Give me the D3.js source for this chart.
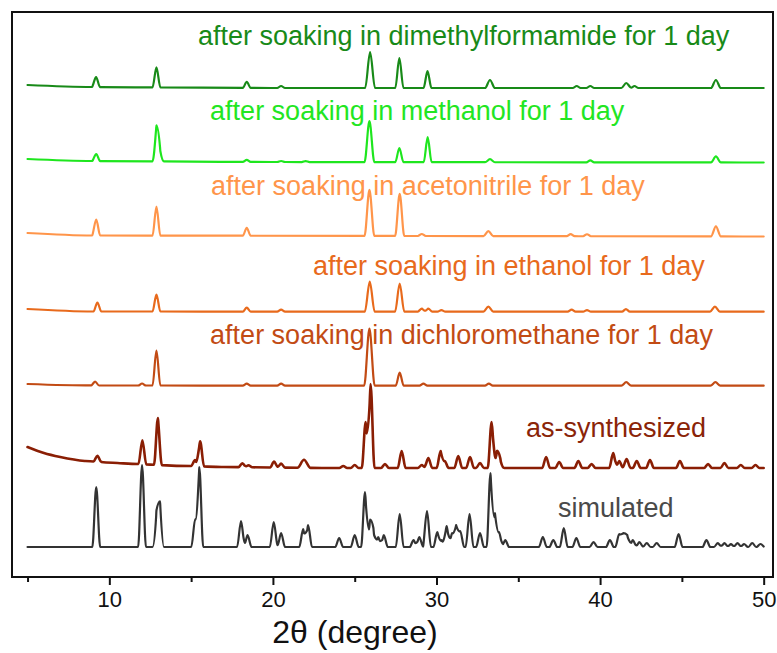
<!DOCTYPE html>
<html>
<head>
<meta charset="utf-8">
<script src="https://cdn.jsdelivr.net/npm/d3@7/dist/d3.min.js"></script>
<style>
  html, body { margin: 0; padding: 0; background: #fff; }
  svg { display: block; font-family: "Liberation Sans", Arial, sans-serif; }
</style>
</head>
<body>
<svg id="chart" width="777" height="653"></svg>
<script>
// Powder XRD patterns, offset vertically (intensity in arbitrary units).
// Peaks: [2θ (deg), height above baseline, optional half-width at base (deg)]

const simulatedBaseline = [[5, 30], [50, 30]];
const simulatedPeaks = [
  [9.2, 60], [12.0, 82], [12.88, 33], [13.1, 43], [15.25, 28], [15.5, 80],
  [18.05, 26], [18.45, 12], [20.05, 25], [20.5, 14], [21.85, 18], [22.15, 22],
  [24.05, 9], [25.0, 12], [25.63, 55], [25.94, 25], [26.14, 15], [26.44, 10],
  [26.78, 12], [27.75, 33], [28.6, 7], [28.95, 10], [29.42, 36], [30.05, 15],
  [30.32, 7], [30.62, 21], [30.95, 14], [31.2, 22], [31.45, 16], [32.02, 33],
  [32.66, 14], [33.3, 74], [33.57, 34], [33.82, 15], [34.2, 7], [36.5, 10],
  [37.14, 7], [37.78, 19], [38.55, 9], [39.6, 5], [40.6, 7], [41.17, 13],
  [41.42, 14], [41.66, 12], [42.0, 7], [42.4, 5], [42.85, 4], [43.46, 4],
  [44.8, 13], [46.5, 7], [47.2, 4], [47.6, 4], [48.0, 3], [48.4, 4],
  [48.8, 3], [49.3, 4], [49.8, 3]
];

const asSynthesizedBaseline = [
  [5, 130], [6, 124], [7, 120], [8.5, 116], [10.5, 114], [13, 112],
  [17, 110], [23, 109], [50, 109]
];
const asSynthesizedPeaks = [
  [9.27, 6], [12.02, 24], [12.97, 47], [15.24, 6], [15.55, 25], [18.13, 4],
  [18.5, 2], [20.07, 6], [20.5, 4], [21.9, 8, 0.4], [24.3, 2], [25.0, 3],
  [25.67, 46], [25.97, 84], [26.85, 4], [27.87, 17], [29.1, 3], [29.5, 10],
  [30.25, 17], [30.5, 7], [31.33, 12], [32.05, 11], [32.66, 5], [33.37, 46],
  [33.7, 16], [33.9, 7], [36.7, 11], [37.5, 6], [38.67, 7], [39.48, 4],
  [40.8, 15], [41.17, 7], [41.62, 9], [42.24, 7], [43.05, 8], [44.88, 7],
  [46.6, 4], [47.6, 5], [48.6, 3], [49.5, 3]
];

const dichloromethaneBaseline = [[5, 193], [9, 191.5], [50, 191.3]];
const dichloromethanePeaks = [
  [9.13, 4], [12.0, 2], [12.88, 35], [18.4, 2], [20.5, 2], [25.9, 57, 0.32],
  [27.75, 13], [29.2, 2], [33.2, 2], [41.6, 3.5, 0.3], [47.05, 3.5, 0.3]
];

const ethanolBaseline = [[5, 268], [9, 265.5], [50, 265.3]];
const ethanolPeaks = [
  [9.27, 9], [12.88, 17], [18.4, 4], [20.5, 2], [25.92, 30, 0.3],
  [27.75, 28, 0.28], [29.1, 3], [29.5, 3], [30.3, 1.5], [33.17, 5, 0.3], [38.26, 2],
  [39.2, 1.5], [41.58, 2.5], [47.02, 5, 0.3]
];

const acetonitrileBaseline = [[5, 344], [9, 341.5], [50, 340.5]];
const acetonitrilePeaks = [
  [9.2, 16], [12.88, 29], [18.4, 8], [25.9, 46, 0.3], [27.75, 42, 0.28],
  [29.1, 2], [33.17, 5, 0.3], [38.2, 2], [39.2, 2], [47.08, 10, 0.3]
];

const methanolBaseline = [[5, 418], [9, 416], [20, 415], [50, 414.5]];
const methanolPeaks = [
  [9.2, 7], [12.88, 35], [13.1, 11], [18.4, 2], [20.5, 1], [22.0, 1],
  [25.9, 41, 0.3], [27.73, 14, 0.25], [29.46, 25], [33.27, 3, 0.3], [39.4, 2], [47.08, 6, 0.3]
];

const dimethylformamideBaseline = [[5, 492], [9, 490], [20, 489], [50, 489]];
const dimethylformamidePeaks = [
  [9.19, 10], [12.88, 20], [18.4, 6], [20.5, 2], [25.94, 36, 0.3],
  [27.73, 30, 0.25], [29.45, 17], [33.27, 8, 0.3], [38.57, 2], [39.4, 2], [41.6, 5, 0.3],
  [42.1, 2], [47.08, 8, 0.3]
];

const seriesLabels = [
  "simulated",
  "as-synthesized",
  "after soaking in dichloromethane for 1 day",
  "after soaking in ethanol for 1 day",
  "after soaking in acetonitrile for 1 day",
  "after soaking in methanol for 1 day",
  "after soaking in dimethylformamide for 1 day"
];

const majorTicks = [10, 20, 30, 40, 50];
const minorTicks = [5, 15, 25, 35, 45];
const xTitle = "2θ (degree)";

// ---- layout ----
const frame = { left: 12, right: 773, top: 12, bottom: 577 };
const svg = d3.select("#chart");

const x = d3.scaleLinear().domain([4.05, 50.57]).range([frame.left, frame.right]);
const y = d3.scaleLinear().domain([0, 565]).range([frame.bottom, frame.top]);

const series = [
  { baseline: simulatedBaseline, peaks: simulatedPeaks, color: "#333333", width: 2.2,
    label: { x: 37.43, y: 60, color: "#4a4a4a" } },
  { baseline: asSynthesizedBaseline, peaks: asSynthesizedPeaks, color: "#8a1e04", width: 2.6,
    label: { x: 35.47, y: 140, color: "#8a2408" } },
  { baseline: dichloromethaneBaseline, peaks: dichloromethanePeaks, color: "#c24b14", width: 2.2,
    label: { x: 16.16, y: 233, color: "#c24b14" } },
  { baseline: ethanolBaseline, peaks: ethanolPeaks, color: "#e86a1c", width: 2.2,
    label: { x: 22.45, y: 302, color: "#e86a1c" } },
  { baseline: acetonitrileBaseline, peaks: acetonitrilePeaks, color: "#ff954a", width: 2.2,
    label: { x: 16.22, y: 382, color: "#ff954a" } },
  { baseline: methanolBaseline, peaks: methanolPeaks, color: "#1ee61e", width: 2.2,
    label: { x: 16.16, y: 457, color: "#22e622" } },
  { baseline: dimethylformamideBaseline, peaks: dimethylformamidePeaks, color: "#188a18", width: 2.2,
    label: { x: 15.42, y: 532, color: "#188a18" } }
];

const defaultHalfWidth = 0.24;

// Build the profile vertices: baseline knots plus base/apex points of each peak.
function profile(s) {
  const bg = d3.scaleLinear()
    .domain(s.baseline.map(d => d[0]))
    .range(s.baseline.map(d => d[1]))
    .clamp(true);
  const xs = new Set(s.baseline.map(d => d[0]));
  s.peaks.forEach(p => {
    const hw = p[2] || defaultHalfWidth;
    xs.add(p[0] - hw); xs.add(p[0]); xs.add(p[0] + hw);
  });
  const pts = Array.from(xs).filter(v => v >= 5 && v <= 50).sort((a, b) => a - b);
  return pts.map(px => {
    let v = bg(px);
    s.peaks.forEach(p => {
      const hw = p[2] || defaultHalfWidth;
      const d = Math.abs(px - p[0]);
      if (d < hw) v += p[1] * (1 - d / hw);
    });
    return [px, v];
  });
}

const line = d3.line()
  .x(d => x(d[0]))
  .y(d => y(d[1]))
  .curve(d3.curveMonotoneX);

const traces = svg.append("g");
series.forEach(s => {
  traces.append("path")
    .attr("d", line(profile(s)))
    .attr("fill", "none")
    .attr("stroke", s.color)
    .attr("stroke-width", s.width)
    .attr("stroke-linejoin", "round")
    .attr("stroke-linecap", "round");
});

// Series labels
const labels = svg.append("g").style("font-size", "27px");
series.forEach((s, i) => {
  labels.append("text")
    .attr("x", x(s.label.x))
    .attr("y", y(s.label.y))
    .attr("fill", s.label.color)
    .text(seriesLabels[i]);
});

// Frame
svg.append("rect")
  .attr("x", frame.left).attr("y", frame.top)
  .attr("width", frame.right - frame.left)
  .attr("height", frame.bottom - frame.top)
  .attr("fill", "none")
  .attr("stroke", "#111")
  .attr("stroke-width", 2);

// Bottom axis: major ticks with labels, minor ticks without
const majorAxis = d3.axisBottom(x).tickValues(majorTicks).tickSize(8).tickPadding(6).tickFormat(d3.format("d"));
const minorAxis = d3.axisBottom(x).tickValues(minorTicks).tickSize(5).tickFormat("");

const gMinor = svg.append("g").attr("transform", `translate(0,${frame.bottom})`).call(minorAxis);
const gMajor = svg.append("g").attr("transform", `translate(0,${frame.bottom})`).call(majorAxis);
[gMinor, gMajor].forEach(g => {
  g.select(".domain").remove();
  g.selectAll(".tick line").attr("stroke", "#111").attr("stroke-width", 2);
});
gMajor.selectAll(".tick text")
  .attr("fill", "#111")
  .style("font-family", "'Liberation Sans', Arial, sans-serif")
  .style("font-size", "22px");

svg.append("text")
  .attr("x", 355)
  .attr("y", 643)
  .attr("text-anchor", "middle")
  .attr("fill", "#111")
  .style("font-size", "32px")
  .text(xTitle);
</script>
</body>
</html>
